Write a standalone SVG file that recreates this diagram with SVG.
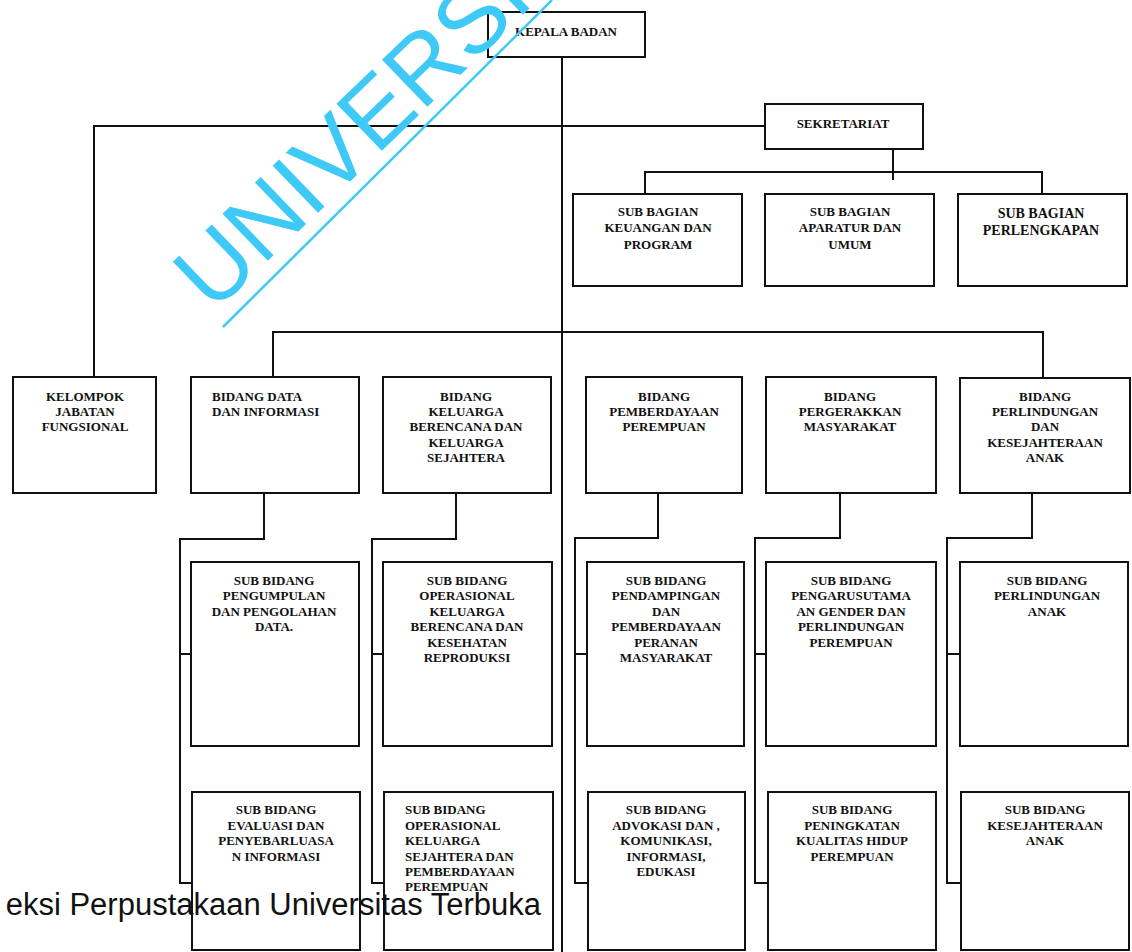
<svg xmlns="http://www.w3.org/2000/svg" width="1132" height="952" viewBox="0 0 1132 952">
<style>
.box{fill:#fff;stroke:#111;stroke-width:2}
.ln{fill:none;stroke:#111;stroke-width:2}
.t{font-family:"Liberation Serif","Times New Roman",serif;font-weight:bold;font-size:13px;fill:#111;text-anchor:middle}
.tl{text-anchor:start}
.wm{font-family:"Liberation Sans",Arial,sans-serif;font-size:95px;fill:#3fc9f7}
.ft{font-family:"Liberation Sans",Arial,sans-serif;font-size:31px;fill:#111;text-anchor:end}
</style>
<rect width="1132" height="952" fill="#fff"/>
<g id="connectors">
<path class="ln" d="M562 57V952"/>
<path class="ln" d="M94 377V126H765"/>
<path class="ln" d="M893 149V180M645 194V172H1042V194"/>
<path class="ln" d="M273 377V332H1043V378"/>
<path class="ln" d="M264 493V539H180V883H192M180 654H191"/>
<path class="ln" d="M456 493V539H372V883H384M372 654H383"/>
<path class="ln" d="M658 493V538H575V883H588M575 654H587"/>
<path class="ln" d="M840 493V538H755V883H768M755 654H766"/>
<path class="ln" d="M1032 493V538H947V883H961M947 654H960"/>
</g>
<g id="kepala"><rect class="box" x="488" y="12" width="157" height="45"/><text class="t" x="566" y="36">KEPALA BADAN</text></g>
<g id="sekretariat"><rect class="box" x="765" y="104" width="158" height="45"/><text class="t" x="843" y="128">SEKRETARIAT</text></g>
<g id="sb-keuangan"><rect class="box" x="573" y="194" width="169" height="92"/><text class="t"><tspan x="658" y="216">SUB BAGIAN</tspan><tspan x="658" y="232">KEUANGAN DAN</tspan><tspan x="658" y="249">PROGRAM</tspan></text></g>
<g id="sb-aparatur"><rect class="box" x="765" y="194" width="169" height="92"/><text class="t"><tspan x="850" y="216">SUB BAGIAN</tspan><tspan x="850" y="232">APARATUR DAN</tspan><tspan x="850" y="249">UMUM</tspan></text></g>
<g id="sb-perlengkapan"><rect class="box" x="958" y="194" width="169" height="92"/><text class="t" style="font-size:14px"><tspan x="1041" y="218">SUB BAGIAN</tspan><tspan x="1041" y="235">PERLENGKAPAN</tspan></text></g>
<g id="kelompok"><rect class="box" x="13" y="377" width="143" height="116"/><text class="t"><tspan x="85" y="401">KELOMPOK</tspan><tspan x="85" y="416">JABATAN</tspan><tspan x="85" y="431">FUNGSIONAL</tspan></text></g>
<g id="b-data"><rect class="box" x="191" y="377" width="168" height="116"/><text class="t tl"><tspan x="212" y="401">BIDANG DATA</tspan><tspan x="212" y="416">DAN INFORMASI</tspan></text></g>
<g id="b-kb"><rect class="box" x="383" y="377" width="168" height="116"/><text class="t"><tspan x="466" y="401">BIDANG</tspan><tspan x="466" y="416">KELUARGA</tspan><tspan x="466" y="431">BERENCANA DAN</tspan><tspan x="466" y="447">KELUARGA</tspan><tspan x="466" y="462">SEJAHTERA</tspan></text></g>
<g id="b-pp"><rect class="box" x="586" y="377" width="156" height="116"/><text class="t"><tspan x="664" y="401">BIDANG</tspan><tspan x="664" y="416">PEMBERDAYAAN</tspan><tspan x="664" y="431">PEREMPUAN</tspan></text></g>
<g id="b-pm"><rect class="box" x="766" y="377" width="170" height="116"/><text class="t"><tspan x="850" y="401">BIDANG</tspan><tspan x="850" y="416">PERGERAKKAN</tspan><tspan x="850" y="431">MASYARAKAT</tspan></text></g>
<g id="b-pka"><rect class="box" x="960" y="378" width="170" height="115"/><text class="t"><tspan x="1045" y="401">BIDANG</tspan><tspan x="1045" y="416">PERLINDUNGAN</tspan><tspan x="1045" y="431">DAN</tspan><tspan x="1045" y="447">KESEJAHTERAAN</tspan><tspan x="1045" y="462">ANAK</tspan></text></g>
<g id="s-pengumpulan"><rect class="box" x="191" y="562" width="168" height="184"/><text class="t"><tspan x="274" y="585">SUB BIDANG</tspan><tspan x="274" y="600">PENGUMPULAN</tspan><tspan x="274" y="616">DAN PENGOLAHAN</tspan><tspan x="274" y="631">DATA.</tspan></text></g>
<g id="s-opkb"><rect class="box" x="383" y="562" width="169" height="184"/><text class="t"><tspan x="467" y="585">SUB BIDANG</tspan><tspan x="467" y="600">OPERASIONAL</tspan><tspan x="467" y="616">KELUARGA</tspan><tspan x="467" y="631">BERENCANA DAN</tspan><tspan x="467" y="647">KESEHATAN</tspan><tspan x="467" y="662">REPRODUKSI</tspan></text></g>
<g id="s-pendampingan"><rect class="box" x="587" y="562" width="157" height="184"/><text class="t"><tspan x="666" y="585">SUB BIDANG</tspan><tspan x="666" y="600">PENDAMPINGAN</tspan><tspan x="666" y="616">DAN</tspan><tspan x="666" y="631">PEMBERDAYAAN</tspan><tspan x="666" y="647">PERANAN</tspan><tspan x="666" y="662">MASYARAKAT</tspan></text></g>
<g id="s-pug"><rect class="box" x="766" y="562" width="170" height="184"/><text class="t"><tspan x="851" y="585">SUB BIDANG</tspan><tspan x="851" y="600">PENGARUSUTAMA</tspan><tspan x="851" y="616">AN GENDER DAN</tspan><tspan x="851" y="631">PERLINDUNGAN</tspan><tspan x="851" y="647">PEREMPUAN</tspan></text></g>
<g id="s-pa"><rect class="box" x="960" y="562" width="168" height="184"/><text class="t"><tspan x="1047" y="585">SUB BIDANG</tspan><tspan x="1047" y="600">PERLINDUNGAN</tspan><tspan x="1047" y="616">ANAK</tspan></text></g>
<g id="s-evaluasi"><rect class="box" x="192" y="792" width="168" height="158"/><text class="t"><tspan x="276" y="814">SUB BIDANG</tspan><tspan x="276" y="830">EVALUASI DAN</tspan><tspan x="276" y="845">PENYEBARLUASA</tspan><tspan x="276" y="861">N INFORMASI</tspan></text></g>
<g id="s-opks"><rect class="box" x="384" y="792" width="169" height="158"/><text class="t tl"><tspan x="405" y="814">SUB BIDANG</tspan><tspan x="405" y="830">OPERASIONAL</tspan><tspan x="405" y="845">KELUARGA</tspan><tspan x="405" y="861">SEJAHTERA DAN</tspan><tspan x="405" y="876">PEMBERDAYAAN</tspan><tspan x="405" y="891">PEREMPUAN</tspan></text></g>
<g id="s-advokasi"><rect class="box" x="588" y="792" width="157" height="158"/><text class="t"><tspan x="666" y="814">SUB BIDANG</tspan><tspan x="666" y="830">ADVOKASI DAN ,</tspan><tspan x="666" y="845">KOMUNIKASI,</tspan><tspan x="666" y="861">INFORMASI,</tspan><tspan x="666" y="876">EDUKASI</tspan></text></g>
<g id="s-kualitas"><rect class="box" x="768" y="792" width="168" height="158"/><text class="t"><tspan x="852" y="814">SUB BIDANG</tspan><tspan x="852" y="830">PENINGKATAN</tspan><tspan x="852" y="845">KUALITAS HIDUP</tspan><tspan x="852" y="861">PEREMPUAN</tspan></text></g>
<g id="s-ka"><rect class="box" x="961" y="792" width="168" height="158"/><text class="t"><tspan x="1045" y="814">SUB BIDANG</tspan><tspan x="1045" y="830">KESEJAHTERAAN</tspan><tspan x="1045" y="845">ANAK</tspan></text></g>
<g id="watermark">
<text class="wm" transform="translate(213 314) rotate(-44)">UNIVERSI</text>
<line x1="223" y1="327" x2="552" y2="0" stroke="#3fc9f7" stroke-width="2.5"/>
<text class="ft" x="541" y="915">eksi Perpustakaan Universitas Terbuka</text>
</g>
</svg>
